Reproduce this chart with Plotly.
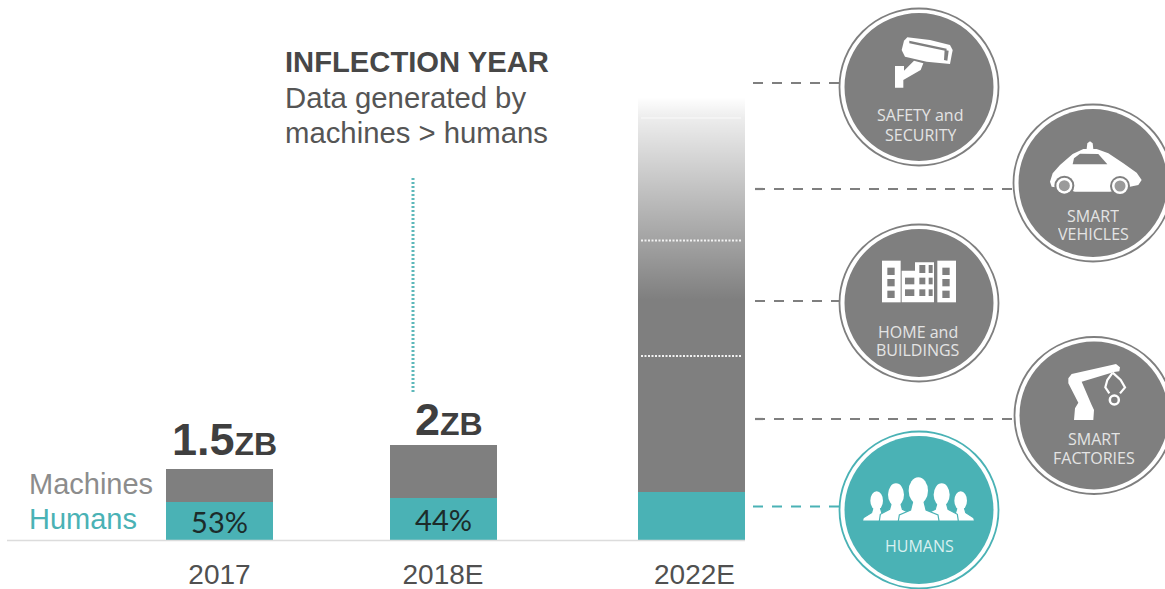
import plotly.graph_objects as go

W, H = 1165, 589

# ---- data ----
years = ["2017", "2018E", "2022E"]
total_zb = [1.5, 2.0, 9.32]
human_zb = [0.795, 0.88, 1.01]
human_labels = ["53%", "44%", ""]
total_big = ["1.5", "2", ""]
machine_zb = [t - h for t, h in zip(total_zb, human_zb)]

bar_pos = [219.5, 443.5, 691.5]
tick_pos = [219.5, 443, 694.5]
BAR_W = 107
GREY = "#7f7f7f"
TEAL = "#4ab2b5"
DARK = "#474747"
PX_PER_ZB = 47.5
BASE_PX = 540


def px(x, y):
    return x / W, 1 - y / H


def path(pts, ox=0, oy=0, s=1.0, close=True):
    out = []
    for i, p in enumerate(pts):
        x, y = px(ox + p[0] * s, oy + p[1] * s)
        out.append(("M" if i == 0 else "L") + f"{x:.5f},{y:.5f}")
    return " ".join(out) + (" Z" if close else "")


shapes = []


def poly(pts, ox=0, oy=0, s=1 / 3, fill="white", line=None, lw=0, close=True):
    shapes.append(dict(type="path", xref="paper", yref="paper", path=path(pts, ox, oy, s, close),
                       fillcolor=fill if close else "rgba(0,0,0,0)",
                       line=dict(color=line or "rgba(0,0,0,0)", width=lw)))


def ell(cx, cy, rx, ry, fill="white", line=None, lw=0):
    x0, y0 = px(cx - rx, cy - ry)
    x1, y1 = px(cx + rx, cy + ry)
    shapes.append(dict(type="circle", xref="paper", yref="paper", x0=x0, x1=x1, y0=y0, y1=y1,
                       fillcolor=fill, line=dict(color=line or "rgba(0,0,0,0)", width=lw)))


def seg(x0, y0, x1, y1, color, width, dash="solid"):
    a, b = px(x0, y0)
    c, d = px(x1, y1)
    shapes.append(dict(type="line", xref="paper", yref="paper", x0=a, y0=b, x1=c, y1=d,
                       line=dict(color=color, width=width, dash=dash)))


# baseline
seg(7, 540.5, 745, 540.5, "#dcdcdc", 1.5)
# dotted marks
seg(413, 178, 413, 394, "#5db8ba", 3, "2px,2px")
seg(641, 240.5, 741, 240.5, "#f2f2f2", 1.8, "2px,1.5px")
seg(641, 356, 741, 356, "#f2f2f2", 1.8, "2px,1.5px")
seg(641, 118, 741, 118, "#fafafa", 1, "solid")
# leaders
DASH = "10px,9px"
seg(753, 83, 842, 83, GREY, 2.2, DASH)
seg(755, 189, 1018, 189, GREY, 2.2, DASH)
seg(755, 301, 842, 301, GREY, 2.2, DASH)
seg(755, 419, 1018, 419, GREY, 2.2, DASH)
seg(753, 506.5, 842, 506.5, TEAL, 2.2, DASH)

# badges
for cx, cy, col in [(919, 87, GREY), (1093, 183, GREY), (919, 303, GREY), (1094, 415.5, GREY), (919, 510, TEAL)]:
    ell(cx, cy, 79.5, 78.5, "white", col, 1.8)
    ell(cx, cy, 74.5, 74, col)

# camera (coordinates in zoom space)
ZX, ZY = 830, 0
poly([(232, 112), (300, 120), (360, 135), (368, 150), (360, 192), (290, 185), (225, 170), (215, 150), (222, 122)], ZX, ZY)
poly([(238, 122), (350, 146), (349, 153), (238, 130)], ZX, ZY, fill=GREY)
poly([(344, 150), (356, 152), (352, 182), (342, 180)], ZX, ZY, fill=GREY)
poly([(195, 198), (222, 198), (222, 212), (252, 182), (280, 190), (272, 210), (220, 240), (220, 263), (195, 263)], ZX, ZY)

# car
poly([(660, 545), (668, 520), (690, 495), (728, 462), (760, 447), (800, 447), (835, 460), (880, 490), (920, 518),
      (935, 540), (925, 555), (900, 560), (840, 575), (735, 575), (700, 565), (665, 560)], ZX, ZY)
poly([(728, 493), (732, 475), (750, 461), (805, 462), (832, 493)], ZX, ZY, fill=GREY)
poly([(770, 447), (772, 430), (780, 424), (788, 430), (790, 447)], ZX, ZY)
for c in [(703, 557), (870, 558)]:
    ell(ZX + c[0] / 3, c[1] / 3, 10, 10, GREY)
    ell(ZX + c[0] / 3, c[1] / 3, 8, 8, "white")
    ell(ZX + c[0] / 3, c[1] / 3, 5.5, 5.5, "#9a9a9a")

# building
BX, BY = 860, 245
poly([(66, 47), (122, 47), (122, 172), (66, 172)], BX, BY)
poly([(232, 47), (288, 47), (288, 172), (232, 172)], BX, BY)
poly([(125, 77), (165, 77), (165, 52), (222, 52), (222, 172), (125, 172)], BX, BY)
for r in [(82, 68), (82, 102), (82, 137), (247, 68), (247, 102), (247, 137)]:
    poly([(r[0], r[1]), (r[0] + 22, r[1]), (r[0] + 22, r[1] + 22), (r[0], r[1] + 22)], BX, BY, fill=GREY)
for r in [(178, 60, 18, 24), (206, 60, 12, 24), (135, 98, 28, 20), (178, 98, 18, 20), (206, 98, 12, 20),
          (135, 133, 28, 20), (178, 133, 18, 20), (206, 133, 12, 20)]:
    poly([(r[0], r[1]), (r[0] + r[2], r[1]), (r[0] + r[2], r[1] + r[3]), (r[0], r[1] + r[3])], BX, BY, fill=GREY)

# robot
RX, RY = 830, 330
poly([(715, 145), (725, 132), (845, 105), (858, 102), (870, 112), (868, 124), (852, 126), (755, 155), (785, 225),
      (792, 240), (790, 270), (732, 270), (735, 235), (745, 218), (715, 160)], RX, RY)
poly([(848, 128), (832, 150), (826, 172), (838, 190)], RX, RY, line="white", lw=2.2, close=False)
poly([(848, 128), (872, 150), (885, 172), (870, 190)], RX, RY, line="white", lw=2.2, close=False)
ell(RX + 853 / 3, RY + 210 / 3, 4.5, 4.5, GREY, "white", 2.5)

# people
PX_, PY_ = 830, 330


def person(cx, head_y, head_rx, head_ry, x0, x1, y0, top):
    poly([(x0, 573), (x0 + 3, y0 + 15), (cx - head_rx * 0.8, y0), (cx - head_rx * 0.5, top), (cx + head_rx * 0.5, top),
          (cx + head_rx * 0.8, y0), (x1 - 3, y0 + 15), (x1, 573)], PX_, PY_, fill="white", line=TEAL, lw=1.2)
    ell(PX_ + cx / 3, PY_ + head_y / 3, head_rx / 3, head_ry / 3, "white")


person(140, 512, 19, 28, 97, 185, 548, 528)
person(392, 512, 19, 28, 345, 434, 548, 528)
person(198, 494, 24, 34, 148, 250, 538, 512)
person(335, 494, 24, 34, 282, 385, 538, 512)
person(265, 482, 29, 40, 205, 327, 540, 505)

# ---- figure ----
fig = go.Figure()
fig.add_trace(go.Bar(x=bar_pos, y=human_zb, width=BAR_W, marker=dict(color=TEAL, line=dict(width=0)), name="Humans",
                     text=human_labels, textposition="inside", insidetextanchor="middle", textangle=0,
                     textfont=dict(family="Lato", size=29, color="#1c2b2a"), constraintext="none"))
fig.add_trace(go.Bar(x=bar_pos, y=machine_zb, width=BAR_W, marker=dict(color=GREY, line=dict(width=0)), name="Machines"))

# white fade over the top of the tallest bar
top = total_zb[2]
fade_from = (BASE_PX - 300) / PX_PER_ZB
l, r = bar_pos[2] - BAR_W / 2, bar_pos[2] + BAR_W / 2
fig.add_trace(go.Scatter(x=[l, r, r, l, l], y=[fade_from, fade_from, top, top, fade_from], mode="lines",
                         line=dict(width=1.5, color="rgba(255,255,255,0.0)"), fill="toself", hoverinfo="skip",
                         fillgradient=dict(type="vertical", start=fade_from, stop=top,
                                           colorscale=[[0, "rgba(255,255,255,0)"], [0.9, "rgba(255,255,255,0.86)"],
                                                       [1, "rgba(255,255,255,1)"]])))
seg(l - 1, 97, r + 1, 97, "white", 2.5)

anns = []


def txt(x, y, s, size, color=DARK, family="Liberation Sans", anchor="left", height=None):
    a, b = px(x, y)
    anns.append(dict(xref="paper", yref="paper", x=a, y=b, text=s, showarrow=False, xanchor=anchor, yanchor="middle",
                     height=height, font=dict(family=family, size=size, color=color)))


txt(283, 62, "<b>INFLECTION YEAR</b>", 29.2)
txt(283, 97.5, "Data generated by", 29.3, "#555555")
txt(283, 132.5, "machines &gt; humans", 29.3, "#555555")
txt(27, 484, "Machines", 29, "#8c8c8c")
txt(27, 519, "Humans", 29, TEAL)

LAB = "#e4e4e4"
for x, y, s, c in [(920, 115, "SAFETY and", LAB), (921, 134, "SECURITY", LAB),
                   (1093, 215.5, "SMART", LAB), (1093, 233.5, "VEHICLES", LAB),
                   (918, 331.5, "HOME and", LAB), (918, 349.5, "BUILDINGS", LAB),
                   (1094, 438.5, "SMART", LAB), (1094, 457.5, "FACTORIES", LAB),
                   (919, 545, "HUMANS", "#d9f0f0")]:
    txt(x, y, s, 16, c, "Open Sans", "center", height=17)

for p, t, b, sh in zip(bar_pos, total_zb, total_big, [2, -2, 0]):
    if b:
        anns.append(dict(x=p + 5, y=t, xref="x", yref="y", text=f"<b>{b}<span style='font-size:32px'>ZB</span></b>",
                         showarrow=False, yanchor="bottom", xanchor="center", yshift=sh,
                         font=dict(family="Liberation Sans", size=45, color="#3f3f3f")))

fig.update_layout(
    width=W, height=H, autosize=False, barmode="stack", showlegend=False,
    margin=dict(l=0, r=0, t=0, b=0), paper_bgcolor="white", plot_bgcolor="white",
    xaxis=dict(range=[0, W], tickmode="array", tickvals=tick_pos, ticktext=years, showgrid=False, zeroline=False,
               showline=False, ticks="outside", ticklen=9, tickcolor="rgba(0,0,0,0)", automargin=False,
               tickfont=dict(family="Liberation Sans", size=28, color="#505050")),
    yaxis=dict(domain=[(H - BASE_PX) / H, 1], range=[0, BASE_PX / PX_PER_ZB], visible=False),
    shapes=shapes, annotations=anns,
)
fig.write_html("out.html", config=dict(displayModeBar=False),
               post_script="document.body.style.margin='0';document.body.style.overflow='hidden';")
